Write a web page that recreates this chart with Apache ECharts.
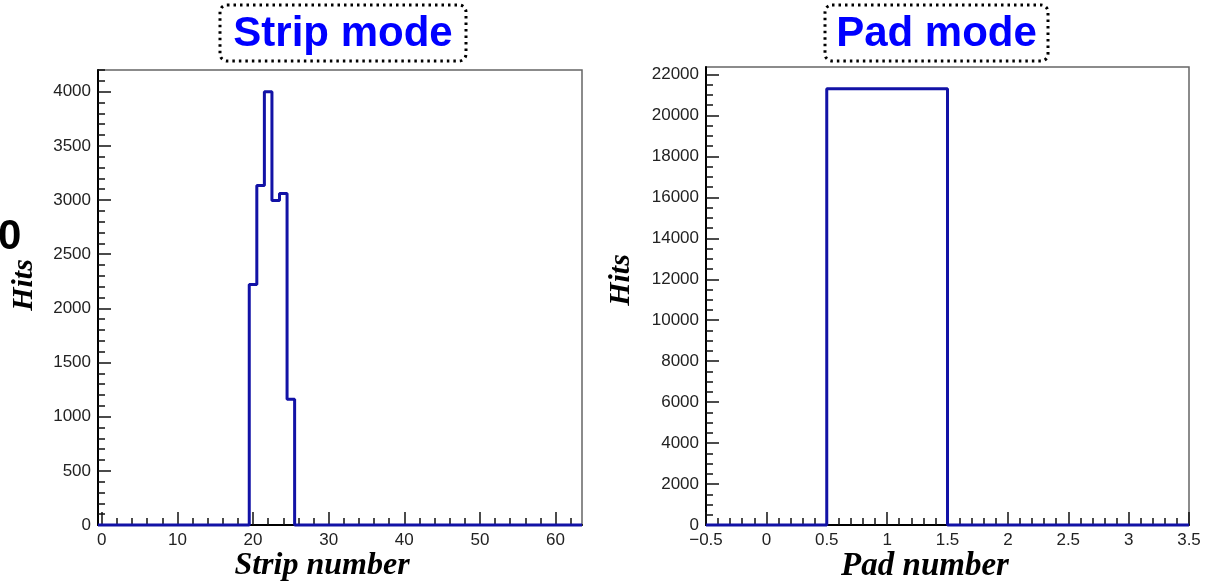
<!DOCTYPE html>
<html>
<head>
<meta charset="utf-8">
<script src="https://cdn.jsdelivr.net/npm/echarts@6/dist/echarts.min.js"></script>
<style>
html,body{margin:0;padding:0;background:#fff;}
#chart{width:1214px;height:581px;}
</style>
</head>
<body>
<div id="chart"></div>
<script>
// ---- data ----
const stripBins = [0,1,2,3,4,5,6,7,8,9,10,11,12,13,14,15,16,17,18,19,20,21,22,23,24,25,26,27,28,29,30,31,
                   32,33,34,35,36,37,38,39,40,41,42,43,44,45,46,47,48,49,50,51,52,53,54,55,56,57,58,59,60,61,62,63];
const stripHits = [0,0,0,0,0,0,0,0,0,0,0,0,0,0,0,0,0,0,0,0,2220,3135,4000,2995,3060,1160,0,0,0,0,0,0,
                   0,0,0,0,0,0,0,0,0,0,0,0,0,0,0,0,0,0,0,0,0,0,0,0,0,0,0,0,0,0,0,0];
const padBins = [0,1,2,3];
const padHits = [0,21300,0,0];

const stripXTicks = [0,10,20,30,40,50,60];
const stripXLabels = ['0','10','20','30','40','50','60'];
const stripYTicks = [0,500,1000,1500,2000,2500,3000,3500,4000];
const stripYLabels = ['0','500','1000','1500','2000','2500','3000','3500','4000'];
const padXTicks = [-0.5,0,0.5,1,1.5,2,2.5,3,3.5];
const padXLabels = ['\u22120.5','0','0.5','1','1.5','2','2.5','3','3.5'];
const padYTicks = [0,2000,4000,6000,8000,10000,12000,14000,16000,18000,20000,22000];
const padYLabels = ['0','2000','4000','6000','8000','10000','12000','14000','16000','18000','20000','22000'];

const titles = ['Strip mode','Pad mode'];
const xTitles = ['Strip number','Pad number'];
const yTitle = 'Hits';

// ---- helpers ----
function minorTicks(min, max, step){
  const out=[]; const n=Math.round((max-min)/step);
  for(let i=0;i<=n;i++){ out.push(+(min+i*step).toFixed(6)); }
  return out;
}
function histPoints(centers, values){
  const w = centers.length>1 ? centers[1]-centers[0] : 1;
  const pts = centers.map((c,i)=>[c-w/2, values[i]]);
  pts.push([centers[centers.length-1]+w/2, values[values.length-1]]);
  return pts;
}
const labelFont = {fontFamily:'Liberation Sans, Arial, sans-serif', fontSize:17, color:'#222'};

function mainX(grid, min, max, ticks, labels){
  return {type:'value', gridIndex:grid, min:min, max:max, position:'bottom',
    axisLine:{show:true, onZero:false, lineStyle:{color:'#000', width:2}},
    axisTick:{show:true, inside:true, length:13, customValues:ticks, lineStyle:{color:'#111', width:1.5}},
    axisLabel:Object.assign({show:true, margin:7, customValues:ticks,
      formatter:(v)=>{const i=ticks.findIndex(t=>Math.abs(t-v)<1e-6); return i>=0?labels[i]:'';}}, labelFont),
    splitLine:{show:false}};
}
function minorX(grid, min, max, step){
  return {type:'value', gridIndex:grid, min:min, max:max, position:'bottom',
    axisLine:{show:false, onZero:false},
    axisTick:{show:true, inside:true, length:7, customValues:minorTicks(min<0?Math.ceil(min/step)*step:0, max, step), lineStyle:{color:'#111', width:1.5}},
    axisLabel:{show:false}, splitLine:{show:false}};
}
function mainY(grid, min, max, ticks, labels){
  return {type:'value', gridIndex:grid, min:min, max:max, position:'left',
    axisLine:{show:true, onZero:false, lineStyle:{color:'#000', width:2}},
    axisTick:{show:true, inside:true, length:13, customValues:ticks, lineStyle:{color:'#111', width:1.5}},
    axisLabel:Object.assign({show:true, margin:7, customValues:ticks,
      formatter:(v)=>{const i=ticks.findIndex(t=>Math.abs(t-v)<1e-6); return i>=0?labels[i]:'';}}, labelFont),
    splitLine:{show:false}};
}
function minorY(grid, min, max, step){
  return {type:'value', gridIndex:grid, min:min, max:max, position:'left',
    axisLine:{show:false, onZero:false},
    axisTick:{show:true, inside:true, length:7, customValues:minorTicks(min, Math.floor(max/step)*step, step), lineStyle:{color:'#111', width:1.5}},
    axisLabel:{show:false}, splitLine:{show:false}};
}

const chart = echarts.init(document.getElementById('chart'), null, {renderer:'canvas'});

function titleBox(x1, y1, x2, y2, text){
  return {type:'group', children:[
    {type:'rect', shape:{x:x1, y:y1, width:x2-x1, height:y2-y1, r:7},
     style:{fill:'none', stroke:'#000', lineWidth:3, lineDash:[2.5,4]}},
    {type:'text', x:(x1+x2)/2, y:(y1+y2)/2+1,
     style:{text:text, font:'bold 42px "Liberation Sans", Arial, sans-serif', fill:'#0000ff',
            align:'center', verticalAlign:'middle', textAlign:'center', textVerticalAlign:'middle'}}
  ]};
}
function axisText(x, y, text, size, rot){
  return {type:'text', x:x, y:y, rotation:rot||0,
    style:{text:text, font:'italic bold '+size+'px "Liberation Serif", "Times New Roman", serif', fill:'#000',
           align:'center', verticalAlign:'middle', textAlign:'center', textVerticalAlign:'middle'}};
}

const option = {
  animation:false,
  backgroundColor:'#fff',
  grid:[
    {left:98, right:632, top:70, bottom:56, show:true, borderColor:'#666', borderWidth:1.5, backgroundColor:'transparent'},
    {left:706, right:25, top:67, bottom:56, show:true, borderColor:'#666', borderWidth:1.5, backgroundColor:'transparent'}
  ],
  xAxis:[
    mainX(0, -0.5, 63.5, stripXTicks, stripXLabels),
    minorX(0, -0.5, 63.5, 2),
    mainX(1, -0.5, 3.5, padXTicks, padXLabels),
    minorX(1, -0.5, 3.5, 0.1)
  ],
  yAxis:[
    mainY(0, 0, 4200, stripYTicks, stripYLabels),
    minorY(0, 0, 4200, 100),
    mainY(1, 0, 22365, padYTicks, padYLabels),
    minorY(1, 0, 22365, 500)
  ],
  series:[
    {type:'line', xAxisIndex:0, yAxisIndex:0, step:'end', showSymbol:false, symbol:'none', clip:false,
     data:histPoints(stripBins, stripHits), lineStyle:{color:'#1212a6', width:3}, z:5},
    {type:'line', xAxisIndex:2, yAxisIndex:2, step:'end', showSymbol:false, symbol:'none', clip:false,
     data:histPoints(padBins, padHits), lineStyle:{color:'#1212a6', width:3}, z:5}
  ],
  graphic:[
    titleBox(220, 5, 466, 61, titles[0]),
    titleBox(825, 5, 1048, 61, titles[1]),
    axisText(24, 285, yTitle, 30, Math.PI/2),
    axisText(621, 280, yTitle, 30, Math.PI/2),
    axisText(322, 566, xTitles[0], 32),
    axisText(925, 566, xTitles[1], 33),
    {type:'text', x:-2, y:237, style:{text:'0', font:'bold 42px "Liberation Sans", Arial, sans-serif', fill:'#000',
      align:'left', verticalAlign:'middle', textAlign:'left', textVerticalAlign:'middle'}}
  ]
};
chart.setOption(option);
</script>
</body>
</html>
